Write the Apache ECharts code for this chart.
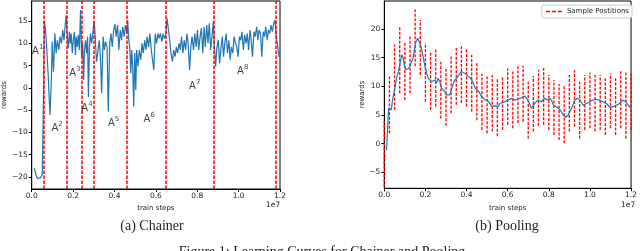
<!DOCTYPE html>
<html><head><meta charset="utf-8">
<script src="https://cdn.jsdelivr.net/npm/echarts@6/dist/echarts.min.js"></script>
<style>html,body{margin:0;padding:0;background:#fff}#c{width:640px;height:251px}</style>
</head><body><div id="c"></div>
<script>
// ---- (a) Chainer ----
const chainerX = [0.013,0.020,0.027,0.034,0.042,0.046,0.051,0.056,0.061,
0.067,0.073,0.080,0.088,0.094,0.099,0.105,0.112,0.118,0.124,0.131,0.137,0.144,0.150,0.156,0.161,0.166,
0.172,0.177,0.182,0.187,0.191,0.196,0.201,0.206,0.211,0.215,0.220,0.225,0.230,0.236,
0.241,0.246,0.251,0.255,0.260,0.265,0.270,0.274,0.279,0.284,0.289,0.294,0.298,0.302,
0.306,0.313,0.319,0.326,0.332,0.338,0.345,0.351,0.357,0.364,0.370,0.377,0.383,0.389,0.396,0.402,0.408,0.415,0.421,0.428,0.434,0.440,0.447,0.453,0.460,0.464,
0.469,0.474,0.479,0.483,0.488,0.493,0.498,0.503,0.507,0.514,0.520,0.527,0.533,0.539,0.546,0.552,0.558,0.565,0.571,0.578,0.584,0.590,0.597,0.603,0.610,0.616,0.622,0.629,0.635,0.641,0.648,0.654,
0.661,0.667,0.673,0.680,0.686,0.693,0.699,0.705,0.712,0.718,0.724,0.731,0.737,0.744,0.750,0.756,0.763,0.769,0.775,0.782,0.788,0.795,0.801,0.807,0.814,0.820,0.827,0.833,0.839,0.846,0.852,0.858,0.865,0.871,0.878,
0.882,0.889,0.895,0.902,0.908,0.914,0.921,0.927,0.933,0.940,0.946,0.953,0.959,0.965,0.972,0.978,0.985,0.991,0.997,1.004,1.010,1.016,1.023,1.029,1.036,1.042,1.048,1.055,1.061,1.067,1.074,1.080,1.087,1.093,1.099,1.106,1.112,1.119,1.125,1.131,1.138,1.144,1.150,1.157,1.163,1.170,1.176,1.182,1.189,1.195,1.200];
const chainerY = [-18.0,-19.5,-20.3,-20.3,-20.2,-20.0,-19.5,-5.0,15.0,
13.0,8.5,2.5,-6.1,0.3,10.4,3.6,12.2,7.8,10.7,8.5,11.5,10.0,13.0,10.7,13.7,16.3,
11.5,8.9,12.6,10.0,12.2,7.8,10.7,12.6,7.4,11.5,9.2,11.9,8.5,17.5,
7.0,10.0,1.8,8.5,10.7,7.8,11.5,-2.0,9.2,12.2,10.0,11.5,13.7,14.9,
12.2,5.9,7.8,10.7,7.0,-1.2,11.5,8.5,10.4,9.2,-5.3,10.0,12.2,9.2,13.0,14.3,11.5,14.1,8.5,13.0,10.7,13.7,11.5,14.1,12.2,15.2,
10.7,8.9,3.3,8.5,4.8,-4.2,7.8,-0.5,8.5,4.8,8.5,6.3,10.0,7.8,10.7,8.5,11.5,9.2,12.2,8.5,6.3,4.0,12.2,10.0,12.2,11.1,12.2,10.4,12.2,11.1,11.9,15.6,
13.0,10.7,7.8,5.9,8.5,7.0,9.2,7.8,10.0,8.5,11.5,7.8,10.7,8.5,12.2,10.0,4.0,9.2,11.5,8.5,12.2,9.2,13.0,8.5,11.5,13.4,7.8,13.7,9.2,14.1,10.0,14.5,8.5,11.5,14.9,
10.0,4.8,9.2,10.7,5.5,8.5,11.5,7.0,10.0,12.2,7.8,10.7,6.3,9.2,7.8,11.5,10.0,9.2,7.0,11.5,10.7,12.6,8.5,11.9,10.0,12.2,8.5,13.0,10.7,7.0,12.6,11.5,13.7,10.7,13.0,12.2,7.0,12.6,11.5,13.7,10.7,13.0,12.2,14.1,12.6,14.5,15.2,11.5,9.2,7.0,7.0];
const switchSteps = [0.061,0.166,0.236,0.302,0.464,0.654,0.878,1.178];
const phaseNames = ['1','2','3','4','5','6','7','8'];
const phaseX = [0.029,0.123,0.209,0.267,0.396,0.568,0.788,1.020];
const phaseY = [8.5,-8.8,3.6,-4.3,-7.6,-6.7,0.65,4.0];

// ---- (b) Pooling ----
const poolingX = [0.011,0.021,0.029,0.034,0.040,0.047,0.053,0.061,0.069,0.077,0.085,0.092,0.098,0.105,0.113,0.121,0.130,0.140,0.146,0.154,0.162,0.169,0.175,0.182,0.190,0.198,0.206,0.214,0.222,0.230,0.238,0.246,0.254,0.262,0.270,0.278,0.286,0.294,0.302,0.310,0.318,0.326,0.334,0.342,0.350,0.358,0.366,0.374,0.383,0.391,0.399,0.410,0.420,0.430,0.442,0.450,0.460,0.470,0.478,0.490,0.500,0.510,0.522,0.530,0.538,0.554,0.562,0.570,0.586,0.600,0.619,0.635,0.651,0.667,0.683,0.699,0.715,0.731,0.747,0.763,0.779,0.795,0.808,0.823,0.839,0.855,0.871,0.882,0.895,0.911,0.927,0.940,0.951,0.967,0.983,0.999,1.015,1.031,1.047,1.064,1.080,1.096,1.112,1.128,1.144,1.160,1.176,1.187,1.200];
const poolingY = [-1.1,6.2,6.5,5.9,7.6,8.8,10.0,11.7,12.6,14.1,15.5,14.9,13.5,12.9,12.6,13.2,14.1,14.9,16.4,17.8,18.4,18.3,17.3,16.4,14.9,13.5,12.3,11.4,11.1,10.8,10.9,11.1,10.6,11.4,10.8,9.7,9.4,9.1,8.5,8.2,8.5,9.4,10.3,11.1,11.4,11.7,11.6,12.6,12.9,12.3,12.0,11.7,11.4,10.8,9.7,9.4,9.1,8.4,8.2,7.6,7.6,7.2,6.5,6.8,6.6,6.5,7.0,6.8,7.3,7.6,7.9,7.6,7.8,8.0,8.3,7.6,6.2,7.0,7.6,7.3,7.9,7.6,7.9,6.7,6.4,5.9,5.0,4.6,5.0,6.2,7.6,7.9,7.6,6.7,7.0,7.3,7.6,7.7,7.6,7.3,7.0,6.4,6.4,6.7,7.0,7.6,7.3,6.7,6.2];
const sampleX = [0,0.025,0.05,0.075,0.1,0.125,0.15,0.175,0.2,0.225,0.25,0.275,0.3,0.325,0.35,0.375,0.4,0.425,0.45,0.475,0.5,0.525,0.55,0.575,0.6,0.625,0.65,0.675,0.7,0.725,0.75,0.775,0.8,0.825,0.85,0.875,0.9,0.925,0.95,0.975,1.0,1.025,1.05,1.075,1.1,1.125,1.15,1.175,1.2];
const sampleHigh = [3.9,11.7,17.3,20.6,17.6,18.7,23.5,21.6,17.6,15.9,16.5,14.3,13.2,15.2,16.7,17.0,16.7,15.5,14.1,12.2,11.7,12.0,11.3,11.8,13.1,12.6,13.5,13.6,10.8,11.8,12.9,13.2,12.0,11.1,10.4,10.0,12.0,12.8,10.8,12.0,12.4,12.0,12.0,11.4,12.3,11.4,12.8,12.4,12.3];
const sampleLow = [-7.5,1.8,5.9,8.8,7.6,8.8,13.5,12.0,7.3,5.9,6.5,4.4,3.1,5.3,6.8,7.1,6.5,5.6,4.1,2.4,1.8,2.1,1.3,2.4,3.3,2.7,3.6,3.8,0.9,2.1,3.1,3.3,2.4,1.5,0.65,0.07,2.1,3.0,0.9,2.4,2.7,2.1,2.4,1.5,2.7,1.5,2.7,0.9,2.4];

// ---- ticks / texts ----
const xTicks = [0,0.2,0.4,0.6,0.8,1.0,1.2];
const chainerTicks = [-20,-15,-10,-5,0,5,10,15];
const poolingTicks = [-5,0,5,10,15,20];
const captions = ['(a) Chainer','(b) Pooling'];
const figCaption = 'Figure 1: Learning Curves for Chainer and Pooling';
const legendName = 'Sample Postitions';

const FONT = 'DejaVu Sans';
const fmtY = v => v < 0 ? '\u2212' + (-v) : String(v);
function xAx(gi){
  return {type:'value', gridIndex:gi, min:0, max:1.2, interval:0.2,
    axisLine:{show:true,onZero:false,lineStyle:{color:'#000',width:1}},
    axisTick:{show:true,length:3,lineStyle:{color:'#000'}},
    axisLabel:{formatter:v=>v.toFixed(1), fontSize:7.5, fontFamily:FONT, color:'#222', margin:3},
    splitLine:{show:false},
    name:'train steps', nameLocation:'middle', nameGap:13,
    nameTextStyle:{fontSize:7, fontFamily:FONT, color:'#222'}};
}
function yAx(gi,min,max,ticks){
  return {type:'value', gridIndex:gi, min:min, max:max,
    axisLine:{show:true,onZero:false,lineStyle:{color:'#000',width:1}},
    axisTick:{show:true,length:3,lineStyle:{color:'#000'},customValues:ticks},
    axisLabel:{formatter:fmtY, fontSize:7.5, fontFamily:FONT, color:'#222', margin:4, customValues:ticks},
    splitLine:{show:false},
    name:'rewards', nameLocation:'middle', nameGap:18,
    nameTextStyle:{fontSize:7, fontFamily:FONT, color:'#222'}};
}
const chart = echarts.init(document.getElementById('c'), null, {renderer:'canvas'});
chart.setOption({
  animation:false,
  backgroundColor:'#fff',
  grid:[
    {left:29.3, top:1, width:250.7, height:188, show:true, borderColor:'#000', borderWidth:1, backgroundColor:'transparent'},
    {left:384.3, top:1, width:249, height:187.3, show:true, borderColor:'#000', borderWidth:1, backgroundColor:'transparent'}
  ],
  xAxis:[xAx(0), xAx(1)],
  yAxis:[yAx(0,-22.7,19.5,chainerTicks), yAx(1,-7.8,24.9,poolingTicks)],
  legend:{
    data:[{name:legendName, icon:'path://M0,0H5V2H0Z M7,0H12V2H7Z M14,0H19V2H14Z'}],
    right:8, top:5, itemWidth:16, itemHeight:2, itemGap:4, padding:[3,3,3,4],
    borderColor:'#ccc', borderWidth:1, borderRadius:2, backgroundColor:'#fff',
    textStyle:{fontSize:7, fontFamily:FONT, color:'#222'}
  },
  series:[
    {type:'line', xAxisIndex:0, yAxisIndex:0, data:chainerX.map((x,i)=>[x,chainerY[i]]),
     showSymbol:false, lineStyle:{color:'#1f77b4', width:1.2}, z:3,
     markLine:{silent:true, symbol:'none', label:{show:false},
       lineStyle:{color:'#ff0000', type:[3.5,1.5], width:1.5},
       data:switchSteps.map(v=>({xAxis:v}))}},
    {type:'scatter', xAxisIndex:0, yAxisIndex:0, symbolSize:0, z:6,
     data:phaseX.map((x,i)=>[x,phaseY[i],phaseNames[i]]),
     label:{show:true, position:'inside', formatter:p=>'{a|A}{s|'+p.data[2]+'}',
       rich:{a:{fontSize:10, fontFamily:FONT, color:'#111', verticalAlign:'bottom', lineHeight:13},
             s:{fontSize:7, fontFamily:FONT, color:'#111', verticalAlign:'top', lineHeight:13}}}},
    {type:'custom', name:legendName, xAxisIndex:1, yAxisIndex:1, z:2,
     itemStyle:{color:'#ff0000'},
     data:sampleX.map((x,i)=>[x,sampleLow[i],sampleHigh[i]]),
     encode:{x:0, y:[1,2]},
     renderItem:(params,api)=>{
       const x = api.value(0);
       const p1 = api.coord([x, api.value(1)]);
       const p2 = api.coord([x, api.value(2)]);
       return {type:'line', shape:{x1:p1[0],y1:p1[1],x2:p2[0],y2:p2[1]},
         style:{stroke:'#ff0000', lineWidth:1.3, lineDash:[3,1.5]}};
     }},
    {type:'line', xAxisIndex:1, yAxisIndex:1, data:poolingX.map((x,i)=>[x,poolingY[i]]),
     showSymbol:false, lineStyle:{color:'#1f77b4', width:1.2}, z:3}
  ],
  graphic:[
    {type:'text', left:266, top:201, style:{text:'1e7', fontSize:7.5, fontFamily:FONT, fill:'#222'}},
    {type:'text', left:621, top:201, style:{text:'1e7', fontSize:7.5, fontFamily:FONT, fill:'#222'}},
    {type:'text', x:152, y:226, style:{text:captions[0], fontSize:14, fontFamily:'Liberation Serif', fill:'#222', align:'center', verticalAlign:'middle'}},
    {type:'text', x:507, y:226, style:{text:captions[1], fontSize:14, fontFamily:'Liberation Serif', fill:'#222', align:'center', verticalAlign:'middle'}},
    {type:'text', x:322, y:245, style:{text:figCaption, fontSize:14, fontFamily:'Liberation Serif', fill:'#222', align:'center', verticalAlign:'top'}}
  ]
});
</script></body></html>
